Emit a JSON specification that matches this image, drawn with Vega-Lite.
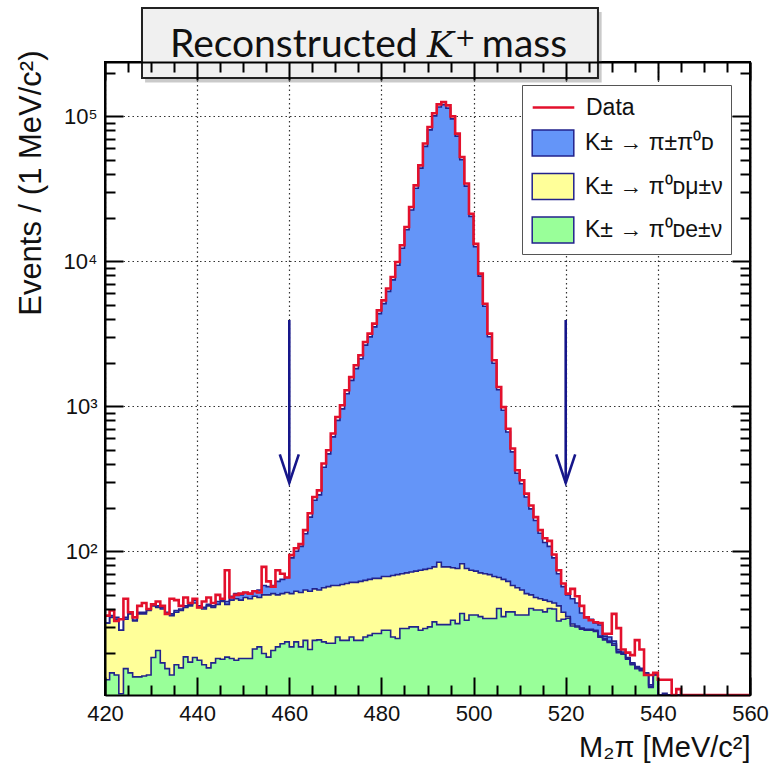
{
  "$schema": "https://vega.github.io/schema/vega-lite/v6.json",
  "width": 645,
  "height": 633,
  "autosize": {"type": "none"},
  "padding": {"left": 105, "top": 62, "right": 20, "bottom": 79},
  "background": "white",
  "config": {
    "view": {"stroke": "black", "strokeWidth": 2},
    "font": "Liberation Sans",
    "axis": {"labelFont": "Liberation Sans", "titleFont": "Liberation Sans", "labelColor": "#111", "titleColor": "#111", "titleFontWeight": "normal", "labelFlush": false, "labelOverlap": false},
    "legend": {"labelFont": "Liberation Sans", "titleFont": "Liberation Sans"}
  },
  "datasets": {
    "hist": [
      {"m":420,"data":36,"total":32,"kmu3top":32,"ke3":13},
      {"m":421,"data":39,"total":36,"kmu3top":35,"ke3":14.5},
      {"m":422,"data":33,"total":35,"kmu3top":34,"ke3":14},
      {"m":423,"data":34,"total":28.5,"kmu3top":28.5,"ke3":10.4},
      {"m":424,"data":47,"total":35,"kmu3top":34,"ke3":15.5},
      {"m":425,"data":38,"total":38,"kmu3top":37,"ke3":14.5},
      {"m":426,"data":35,"total":33.5,"kmu3top":33,"ke3":13.6},
      {"m":427,"data":42,"total":38,"kmu3top":37,"ke3":13.6},
      {"m":428,"data":44,"total":38,"kmu3top":37,"ke3":13.8},
      {"m":429,"data":40,"total":40,"kmu3top":39,"ke3":14},
      {"m":430,"data":43,"total":43,"kmu3top":42,"ke3":18.5},
      {"m":431,"data":45,"total":42,"kmu3top":41,"ke3":20.7},
      {"m":432,"data":42,"total":41,"kmu3top":40,"ke3":17},
      {"m":433,"data":37,"total":38,"kmu3top":37,"ke3":15.5},
      {"m":434,"data":47,"total":37,"kmu3top":36,"ke3":14},
      {"m":435,"data":46,"total":39,"kmu3top":38,"ke3":16.5},
      {"m":436,"data":42,"total":40,"kmu3top":39,"ke3":15.7},
      {"m":437,"data":48,"total":42,"kmu3top":41,"ke3":18.7},
      {"m":438,"data":44,"total":43,"kmu3top":42,"ke3":17.2},
      {"m":439,"data":47,"total":46,"kmu3top":44,"ke3":18.5},
      {"m":440,"data":41,"total":42,"kmu3top":41,"ke3":17.7},
      {"m":441,"data":45,"total":41,"kmu3top":40,"ke3":16.5},
      {"m":442,"data":48,"total":43,"kmu3top":42,"ke3":15.7},
      {"m":443,"data":44,"total":42,"kmu3top":41,"ke3":17},
      {"m":444,"data":50,"total":45,"kmu3top":43,"ke3":18.2},
      {"m":445,"data":47,"total":46,"kmu3top":45,"ke3":18},
      {"m":446,"data":74,"total":45,"kmu3top":43,"ke3":18.6},
      {"m":447,"data":48,"total":49,"kmu3top":46,"ke3":18.2},
      {"m":448,"data":50,"total":51,"kmu3top":47,"ke3":17.7},
      {"m":449,"data":51,"total":50,"kmu3top":46,"ke3":18.2},
      {"m":450,"data":52,"total":52,"kmu3top":48,"ke3":18.2},
      {"m":451,"data":51,"total":51,"kmu3top":47,"ke3":18.2},
      {"m":452,"data":53,"total":53,"kmu3top":49,"ke3":21.2},
      {"m":453,"data":52,"total":54,"kmu3top":48,"ke3":21.9},
      {"m":454,"data":78,"total":58,"kmu3top":50,"ke3":19.7},
      {"m":455,"data":62,"total":57,"kmu3top":50,"ke3":18.6},
      {"m":456,"data":57,"total":58,"kmu3top":51,"ke3":20.7},
      {"m":457,"data":74,"total":62,"kmu3top":50,"ke3":21.9},
      {"m":458,"data":70,"total":64,"kmu3top":51,"ke3":23},
      {"m":459,"data":66,"total":66,"kmu3top":52,"ke3":23.7},
      {"m":460,"data":94,"total":90,"kmu3top":51,"ke3":21.9},
      {"m":461,"data":105,"total":100,"kmu3top":53,"ke3":23.7},
      {"m":462,"data":112,"total":108,"kmu3top":52,"ke3":21.9},
      {"m":463,"data":140,"total":132,"kmu3top":54,"ke3":24.3},
      {"m":464,"data":183,"total":172,"kmu3top":53,"ke3":21},
      {"m":465,"data":237,"total":225,"kmu3top":55,"ke3":24.3},
      {"m":466,"data":263,"total":245,"kmu3top":54,"ke3":24.5},
      {"m":467,"data":403,"total":380,"kmu3top":56,"ke3":23.7},
      {"m":468,"data":497,"total":470,"kmu3top":57,"ke3":23.2},
      {"m":469,"data":649,"total":615,"kmu3top":58,"ke3":23.2},
      {"m":470,"data":844,"total":800,"kmu3top":58,"ke3":25.6},
      {"m":471,"data":1016,"total":960,"kmu3top":59,"ke3":24.3},
      {"m":472,"data":1290,"total":1220,"kmu3top":60,"ke3":24.3},
      {"m":473,"data":1590,"total":1510,"kmu3top":61,"ke3":25.6},
      {"m":474,"data":1920,"total":1820,"kmu3top":61,"ke3":24.3},
      {"m":475,"data":2250,"total":2130,"kmu3top":62,"ke3":24.3},
      {"m":476,"data":2775,"total":2640,"kmu3top":63,"ke3":25.6},
      {"m":477,"data":3170,"total":3010,"kmu3top":64,"ke3":26.3},
      {"m":478,"data":3715,"total":3530,"kmu3top":65,"ke3":27.1},
      {"m":479,"data":4590,"total":4360,"kmu3top":65,"ke3":27.1},
      {"m":480,"data":5380,"total":5110,"kmu3top":67,"ke3":28.5},
      {"m":481,"data":6500,"total":6200,"kmu3top":67,"ke3":28.5},
      {"m":482,"data":7800,"total":7450,"kmu3top":68,"ke3":25.6},
      {"m":483,"data":9880,"total":9400,"kmu3top":69,"ke3":25},
      {"m":484,"data":12900,"total":12300,"kmu3top":70,"ke3":29.3},
      {"m":485,"data":17250,"total":16500,"kmu3top":71,"ke3":29.3},
      {"m":486,"data":23700,"total":22600,"kmu3top":72,"ke3":30.1},
      {"m":487,"data":33400,"total":31900,"kmu3top":73,"ke3":30.1},
      {"m":488,"data":45900,"total":43900,"kmu3top":74,"ke3":28.5},
      {"m":489,"data":64900,"total":62100,"kmu3top":75,"ke3":29.3},
      {"m":490,"data":84400,"total":80700,"kmu3top":76,"ke3":30.1},
      {"m":491,"data":105000,"total":100800,"kmu3top":78,"ke3":32.6},
      {"m":492,"data":121000,"total":116000,"kmu3top":84,"ke3":31.2},
      {"m":493,"data":125600,"total":120500,"kmu3top":78,"ke3":31.2},
      {"m":494,"data":119000,"total":114000,"kmu3top":78,"ke3":31.2},
      {"m":495,"data":100000,"total":96000,"kmu3top":77,"ke3":33.4},
      {"m":496,"data":76000,"total":73000,"kmu3top":76,"ke3":31.7},
      {"m":497,"data":52400,"total":50300,"kmu3top":82,"ke3":37.2},
      {"m":498,"data":34400,"total":33000,"kmu3top":76,"ke3":33.4},
      {"m":499,"data":21300,"total":20400,"kmu3top":74,"ke3":36.3},
      {"m":500,"data":13200,"total":12600,"kmu3top":73,"ke3":36.3},
      {"m":501,"data":8230,"total":7900,"kmu3top":71,"ke3":35.4},
      {"m":502,"data":5100,"total":4900,"kmu3top":70,"ke3":34.4},
      {"m":503,"data":3170,"total":3020,"kmu3top":69,"ke3":34.4},
      {"m":504,"data":2080,"total":1980,"kmu3top":67,"ke3":34.4},
      {"m":505,"data":1360,"total":1300,"kmu3top":66,"ke3":40.3},
      {"m":506,"data":987,"total":940,"kmu3top":64,"ke3":35.4},
      {"m":507,"data":700,"total":665,"kmu3top":62,"ke3":38.2},
      {"m":508,"data":511,"total":485,"kmu3top":58,"ke3":38.2},
      {"m":509,"data":362,"total":345,"kmu3top":56,"ke3":36.3},
      {"m":510,"data":309,"total":292,"kmu3top":54,"ke3":36.3},
      {"m":511,"data":250,"total":237,"kmu3top":51,"ke3":36.3},
      {"m":512,"data":207,"total":196,"kmu3top":50,"ke3":40.3},
      {"m":513,"data":172,"total":163,"kmu3top":48,"ke3":39.3},
      {"m":514,"data":140,"total":133,"kmu3top":47,"ke3":39.3},
      {"m":515,"data":123,"total":115,"kmu3top":46,"ke3":38.2},
      {"m":516,"data":118,"total":108,"kmu3top":45,"ke3":40.3},
      {"m":517,"data":95,"total":90,"kmu3top":44,"ke3":40},
      {"m":518,"data":74,"total":70,"kmu3top":42,"ke3":33},
      {"m":519,"data":60,"total":57,"kmu3top":38,"ke3":34},
      {"m":520,"data":51,"total":50,"kmu3top":35.5,"ke3":34.5},
      {"m":521,"data":55,"total":47,"kmu3top":31.5,"ke3":30.5},
      {"m":522,"data":49,"total":44,"kmu3top":30.5,"ke3":30},
      {"m":523,"data":42,"total":37.5,"kmu3top":29.5,"ke3":29},
      {"m":524,"data":35,"total":35,"kmu3top":29,"ke3":28.5},
      {"m":525,"data":33.4,"total":34,"kmu3top":29,"ke3":28.5},
      {"m":526,"data":32.4,"total":32,"kmu3top":28.5,"ke3":28},
      {"m":527,"data":32,"total":31,"kmu3top":26,"ke3":25.5},
      {"m":528,"data":27,"total":26,"kmu3top":25,"ke3":24.5},
      {"m":529,"data":27,"total":25.6,"kmu3top":24,"ke3":23.5},
      {"m":530,"data":37,"total":24,"kmu3top":23,"ke3":22.5},
      {"m":531,"data":29.5,"total":21,"kmu3top":20.3,"ke3":20},
      {"m":532,"data":21,"total":20.2,"kmu3top":19.8,"ke3":19.5},
      {"m":533,"data":20,"total":18.5,"kmu3top":18.2,"ke3":18},
      {"m":534,"data":19.2,"total":17,"kmu3top":16.7,"ke3":16.5},
      {"m":535,"data":24.4,"total":16,"kmu3top":15.7,"ke3":15.5},
      {"m":536,"data":21,"total":15.6,"kmu3top":15.2,"ke3":15},
      {"m":537,"data":14,"total":14.5,"kmu3top":14.2,"ke3":14},
      {"m":538,"data":14,"total":12,"kmu3top":11.7,"ke3":11.5},
      {"m":539,"data":14.5,"total":14.4,"kmu3top":14.1,"ke3":14},
      {"m":540,"data":13,"total":0,"kmu3top":0,"ke3":0},
      {"m":541,"data":13,"total":10.5,"kmu3top":0,"ke3":0},
      {"m":542,"data":13,"total":0,"kmu3top":0,"ke3":0},
      {"m":543,"data":0,"total":0,"kmu3top":0,"ke3":0},
      {"m":544,"data":11.2,"total":0,"kmu3top":0,"ke3":0},
      {"m":545,"data":0,"total":0,"kmu3top":0,"ke3":0},
      {"m":546,"data":0,"total":0,"kmu3top":0,"ke3":0},
      {"m":547,"data":0,"total":0,"kmu3top":0,"ke3":0},
      {"m":548,"data":0,"total":0,"kmu3top":0,"ke3":0},
      {"m":549,"data":0,"total":0,"kmu3top":0,"ke3":0},
      {"m":550,"data":0,"total":0,"kmu3top":0,"ke3":0},
      {"m":551,"data":0,"total":0,"kmu3top":0,"ke3":0},
      {"m":552,"data":0,"total":0,"kmu3top":0,"ke3":0},
      {"m":553,"data":0,"total":0,"kmu3top":0,"ke3":0},
      {"m":554,"data":0,"total":0,"kmu3top":0,"ke3":0},
      {"m":555,"data":0,"total":0,"kmu3top":0,"ke3":0},
      {"m":556,"data":0,"total":0,"kmu3top":0,"ke3":0},
      {"m":557,"data":0,"total":0,"kmu3top":0,"ke3":0},
      {"m":558,"data":0,"total":0,"kmu3top":0,"ke3":0},
      {"m":559,"data":0,"total":0,"kmu3top":0,"ke3":0},
      {"m":560,"data":0,"total":0,"kmu3top":0,"ke3":0}
    ],
    "arrows": [
      {"cut": 460, "top": 3936, "tip": 296},
      {"cut": 520, "top": 3936, "tip": 296}
    ]
  },
  "layer": [
    {
      "layer": [
        {
          "data": {"name": "hist"},
          "mark": {"type": "area", "interpolate": "step-after", "opacity": 1},
          "encoding": {
            "x": {"field": "m", "type": "quantitative", "scale": {"domain": [420, 560], "nice": false, "zero": false},
              "axis": {"orient": "bottom", "values": [420, 440, 460, 480, 500, 520, 540, 560], "ticks": false, "domain": false, "grid": true, "gridDash": [1.5, 3], "gridColor": "#333", "gridWidth": 1.2, "labelFontSize": 22, "labelPadding": 8, "title": "M₂π [MeV/c²]", "titleFontSize": 29, "titleAnchor": "end", "titlePadding": 9}},
            "y": {"field": "total", "type": "quantitative", "stack": null, "scale": {"type": "log", "domain": [10.2, 237000], "clamp": true, "nice": false},
              "axis": {"orient": "left", "values": [100, 1000, 10000, 100000], "ticks": false, "domain": false, "grid": true, "gridDash": [1.5, 3], "gridColor": "#333", "gridWidth": 1.2, "labelFontSize": 22, "labelPadding": 8, "labelExpr": "datum.value == 100 ? '10²' : datum.value == 1000 ? '10³' : datum.value == 10000 ? '10⁴' : '10⁵'", "title": "Events / (1 MeV/c²)", "titleFontSize": 31, "titleAnchor": "end", "titlePadding": 16, "titleY": -12}},
            "y2": {"datum": 10.2},
            "fill": {"datum": "K± → π±π⁰ᴅ", "type": "nominal",
              "scale": {"domain": ["K± → π±π⁰ᴅ", "K± → π⁰ᴅμ±ν", "K± → π⁰ᴅe±ν"], "range": ["#6495f8", "#ffff99", "#99ff99"]},
              "legend": {"orient": "none", "legendX": 417, "legendY": 23, "zindex": 1, "title": " ", "titleFontSize": 22, "titlePadding": 14, "direction": "vertical",
                "fillColor": "white", "strokeColor": "#555", "padding": 8,
                "symbolType": "M-1.6,-1H1.6V1H-1.6Z", "symbolSize": 676, "symbolOffset": 9, "symbolStrokeWidth": 1.5, "symbolStrokeColor": "#22228c", "symbolOpacity": 1,
                "labelFontSize": 23, "labelColor": "#111", "labelOffset": 18, "labelLimit": 300,
                "rowPadding": 11.5}}
          }
        },
        {
          "data": {"name": "hist"},
          "mark": {"type": "area", "interpolate": "step-after", "opacity": 1},
          "encoding": {
            "x": {"field": "m", "type": "quantitative",
              "axis": {"orient": "bottom", "values": [420, 440, 460, 480, 500, 520, 540, 560], "labels": false, "grid": false, "domain": true, "domainColor": "black", "domainWidth": 2, "ticks": true, "tickSize": -18, "tickWidth": 2, "tickColor": "black", "title": null, "zindex": 1}},
            "y": {"field": "kmu3top", "type": "quantitative", "stack": null,
              "axis": {"orient": "left", "values": [100, 1000, 10000, 100000], "labels": false, "grid": false, "domain": true, "domainColor": "black", "domainWidth": 2, "ticks": true, "tickSize": -18, "tickWidth": 2, "tickColor": "black", "title": null, "zindex": 1}},
            "y2": {"datum": 10.2},
            "fill": {"datum": "K± → π⁰ᴅμ±ν", "type": "nominal"}
          }
        },
        {
          "data": {"name": "hist"},
          "mark": {"type": "area", "interpolate": "step-after", "opacity": 1},
          "encoding": {
            "x": {"field": "m", "type": "quantitative",
              "axis": {"orient": "bottom", "values": [425, 430, 435, 445, 450, 455, 465, 470, 475, 485, 490, 495, 505, 510, 515, 525, 530, 535, 545, 550, 555], "labels": false, "grid": false, "domain": false, "ticks": true, "tickSize": -10, "tickWidth": 2, "tickColor": "black", "title": null, "zindex": 1}},
            "y": {"field": "ke3", "type": "quantitative", "stack": null,
              "axis": {"orient": "left", "values": [20, 30, 40, 50, 60, 70, 80, 90, 200, 300, 400, 500, 600, 700, 800, 900, 2000, 3000, 4000, 5000, 6000, 7000, 8000, 9000, 20000, 30000, 40000, 50000, 60000, 70000, 80000, 90000, 200000], "labels": false, "grid": false, "domain": false, "ticks": true, "tickSize": -10, "tickWidth": 2, "tickColor": "black", "title": null, "zindex": 1}},
            "y2": {"datum": 10.2},
            "fill": {"datum": "K± → π⁰ᴅe±ν", "type": "nominal"}
          }
        },
        {
          "data": {"name": "hist"},
          "mark": {"type": "line", "interpolate": "step-after", "color": "#22228c", "strokeWidth": 1.6},
          "encoding": {
            "x": {"field": "m", "type": "quantitative",
              "axis": {"orient": "top", "values": [420, 440, 460, 480, 500, 520, 540, 560], "labels": false, "grid": false, "domain": true, "domainColor": "black", "domainWidth": 2, "ticks": true, "tickSize": -18, "tickWidth": 2, "tickColor": "black", "title": null, "zindex": 1}},
            "y": {"field": "total", "type": "quantitative", "stack": null,
              "axis": {"orient": "right", "values": [100, 1000, 10000, 100000], "labels": false, "grid": false, "domain": true, "domainColor": "black", "domainWidth": 2, "ticks": true, "tickSize": -18, "tickWidth": 2, "tickColor": "black", "title": null, "zindex": 1}}
          }
        },
        {
          "data": {"name": "hist"},
          "mark": {"type": "line", "interpolate": "step-after", "color": "#22228c", "strokeWidth": 1.6},
          "encoding": {
            "x": {"field": "m", "type": "quantitative",
              "axis": {"orient": "top", "values": [425, 430, 435, 445, 450, 455, 465, 470, 475, 485, 490, 495, 505, 510, 515, 525, 530, 535, 545, 550, 555], "labels": false, "grid": false, "domain": false, "ticks": true, "tickSize": -10, "tickWidth": 2, "tickColor": "black", "title": null, "zindex": 1}},
            "y": {"field": "kmu3top", "type": "quantitative", "stack": null,
              "axis": {"orient": "right", "values": [20, 30, 40, 50, 60, 70, 80, 90, 200, 300, 400, 500, 600, 700, 800, 900, 2000, 3000, 4000, 5000, 6000, 7000, 8000, 9000, 20000, 30000, 40000, 50000, 60000, 70000, 80000, 90000, 200000], "labels": false, "grid": false, "domain": false, "ticks": true, "tickSize": -10, "tickWidth": 2, "tickColor": "black", "title": null, "zindex": 1}}
          }
        },
        {
          "data": {"name": "hist"},
          "mark": {"type": "line", "interpolate": "step-after", "color": "#22228c", "strokeWidth": 1.6},
          "encoding": {
            "x": {"field": "m", "type": "quantitative", "axis": null},
            "y": {"field": "ke3", "type": "quantitative", "stack": null, "axis": null}
          }
        },
        {
          "data": {"name": "hist"},
          "mark": {"type": "line", "interpolate": "step-after", "strokeWidth": 2.6},
          "encoding": {
            "x": {"field": "m", "type": "quantitative", "axis": null},
            "y": {"field": "data", "type": "quantitative", "stack": null, "axis": null},
            "stroke": {"datum": "Data", "type": "nominal",
              "scale": {"domain": ["Data"], "range": ["#e3102c"]},
              "legend": {"orient": "none", "legendX": 417, "legendY": 23, "zindex": 2, "title": null, "padding": 8,
                "symbolType": "M-1.6,0H1.6", "symbolSize": 676, "symbolOffset": 9, "symbolStrokeWidth": 2.5, "symbolOpacity": 1,
                "labelFontSize": 23, "labelColor": "#111", "labelOffset": 18}}
          }
        },
        {
          "data": {"name": "arrows"},
          "mark": {"type": "rule", "color": "#16168a", "strokeWidth": 2.6},
          "encoding": {
            "x": {"field": "cut", "type": "quantitative", "axis": null},
            "y": {"field": "top", "type": "quantitative", "axis": null},
            "y2": {"field": "tip"}
          }
        },
        {
          "data": {"name": "arrows"},
          "mark": {"type": "point", "shape": "M-1,-3L0,0L1,-3", "size": 361, "filled": false, "color": "#16168a", "strokeWidth": 2.6, "opacity": 1},
          "encoding": {
            "x": {"field": "cut", "type": "quantitative", "axis": null},
            "y": {"field": "tip", "type": "quantitative", "axis": null}
          }
        }
      ],
      "resolve": {"axis": {"x": "independent", "y": "independent"}}
    },
    {
      "data": {"values": [{}]},
      "layer": [
        {
          "mark": {"type": "rect", "fill": "#8a8a8a", "opacity": 0.45},
          "encoding": {
            "x": {"datum": 428.7, "type": "quantitative", "scale": {"domain": [420, 560], "nice": false, "zero": false}, "axis": null},
            "x2": {"datum": 527.8},
            "y": {"datum": 523500, "type": "quantitative", "scale": {"type": "log", "domain": [10.2, 237000], "nice": false}, "axis": null},
            "y2": {"datum": 171000}
          }
        },
        {
          "mark": {"type": "rect", "fill": "#f0f0f0", "stroke": "#222", "strokeWidth": 2},
          "encoding": {
            "x": {"datum": 428.03, "type": "quantitative", "axis": null},
            "x2": {"datum": 527.0},
            "y": {"datum": 557800, "type": "quantitative", "axis": null},
            "y2": {"datum": 183500}
          }
        },
        {
          "mark": {"type": "text", "text": "Reconstructed", "font": "Lato", "fontSize": 39, "align": "left", "baseline": "alphabetic", "color": "#111"},
          "encoding": {
            "x": {"datum": 434.1, "type": "quantitative", "axis": null},
            "y": {"datum": 256200, "type": "quantitative", "axis": null}
          }
        },
        {
          "mark": {"type": "text", "text": "K", "font": "DejaVu Serif", "fontStyle": "italic", "fontSize": 36, "align": "left", "baseline": "alphabetic", "color": "#111"},
          "encoding": {
            "x": {"datum": 489.9, "type": "quantitative", "axis": null},
            "y": {"datum": 256200, "type": "quantitative", "axis": null}
          }
        },
        {
          "mark": {"type": "text", "text": "+", "font": "DejaVu Serif", "fontSize": 25, "align": "left", "baseline": "alphabetic", "color": "#111"},
          "encoding": {
            "x": {"datum": 495.9, "type": "quantitative", "axis": null},
            "y": {"datum": 307000, "type": "quantitative", "axis": null}
          }
        },
        {
          "mark": {"type": "text", "text": "mass", "font": "Lato", "fontSize": 39, "align": "left", "baseline": "alphabetic", "color": "#111"},
          "encoding": {
            "x": {"datum": 501.8, "type": "quantitative", "axis": null},
            "y": {"datum": 256200, "type": "quantitative", "axis": null}
          }
        }
      ]
    }
  ],
  "resolve": {"scale": {"y": "independent"}}
}
